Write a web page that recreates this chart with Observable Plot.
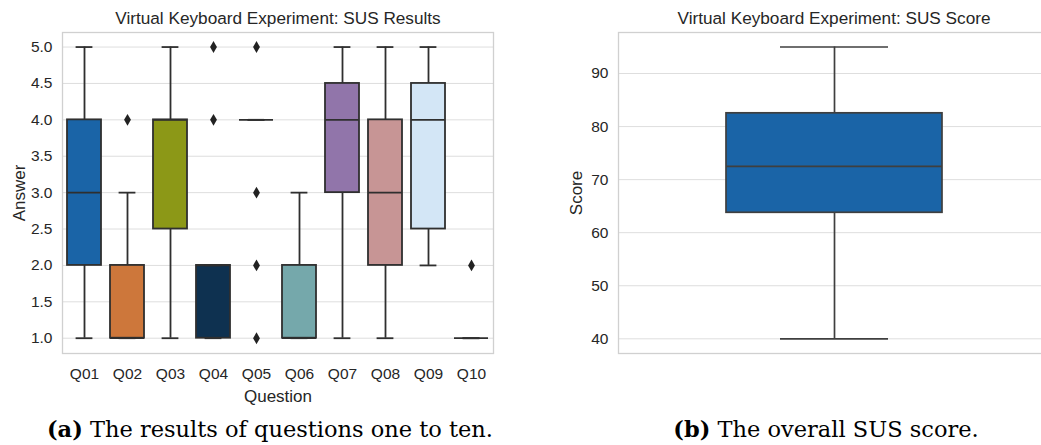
<!DOCTYPE html>
<html><head><meta charset="utf-8">
<script src="https://cdn.jsdelivr.net/npm/d3@7"></script>
<script src="https://cdn.jsdelivr.net/npm/@observablehq/plot@0.6"></script>
<style>
html,body{margin:0;padding:0;background:#fff;overflow:hidden;}
#wrap{position:relative;width:1041px;height:445px;overflow:hidden;}
.title{position:absolute;font-family:"Liberation Sans",Arial,sans-serif;font-size:17.2px;color:#262626;transform:translateX(-50%);white-space:nowrap;line-height:1;}
.cap{position:absolute;font-family:"DejaVu Serif",serif;font-size:22.5px;color:#000;transform:translateX(-50%);white-space:nowrap;line-height:1;}
.panel{position:absolute;top:0;}
.panel svg{max-width:none !important;}
</style></head><body>
<div id="wrap">
  <div class="panel" id="left" style="left:0;width:520px"></div>
  <div class="panel" id="right" style="left:520px;width:530px"></div>
  <div class="title" style="left:278px;top:10px">Virtual Keyboard Experiment: SUS Results</div>
  <div class="title" style="left:834px;top:10px">Virtual Keyboard Experiment: SUS Score</div>
  <div class="cap" style="left:270px;top:418px"><b>(a)</b> The results of questions one to ten.</div>
  <div class="cap" style="left:826px;top:418px"><b>(b)</b> The overall SUS score.</div>
</div>
<script>
// ---- Panel (a): per-question summaries ----
const questions = ["Q01","Q02","Q03","Q04","Q05","Q06","Q07","Q08","Q09","Q10"];
const q1 =          [2, 1, 2.5, 1, 4, 1, 3,   2, 2.5, 1];
const medians =     [3, 1, 4,   2, 4, 1, 4,   3, 4,   1];
const q3 =          [4, 2, 4,   2, 4, 2, 4.5, 4, 4.5, 1];
const whiskerLow =  [1, 1, 1,   1, 4, 1, 1,   1, 2,   1];
const whiskerHigh = [5, 3, 5,   2, 4, 3, 5,   5, 5,   1];
const boxColors = ["#1a64a7","#cd773b","#8c9817","#0e3150","#c44e52","#75a8ab","#9175aa","#c79595","#d3e6f6","#8c8c8c"];
const outlierQuestion = ["Q02","Q04","Q04","Q05","Q05","Q05","Q05","Q10"];
const outlierValue =    [4,    4,    5,    5,    3,    2,    1,    2];
const answerTicks = [1, 1.5, 2, 2.5, 3, 3.5, 4, 4.5, 5];

// ---- Panel (b): overall SUS score summary ----
const scoreCategory = [""];
const scoreQ1 = [63.75];
const scoreMedian = [72.5];
const scoreQ3 = [82.5];
const scoreLow = [40];
const scoreHigh = [95];
const scoreColor = ["#1a64a7"];
const scoreTicks = [40, 50, 60, 70, 80, 90];

const EDGE = "#2f2f2f", GRID = "#dedede", FRAME = "#d0d0d0", SW = 1.8;
const font = {fontFamily: "'Liberation Sans', Arial, sans-serif", fontSize: "15.5px", color: "#262626", background: "white", overflow: "visible"};

const rows = questions.map((q, i) => ({q, q1: q1[i], med: medians[i], q3: q3[i], lo: whiskerLow[i], hi: whiskerHigh[i], color: boxColors[i]}));
const outliers = outlierQuestion.map((q, i) => ({q, v: outlierValue[i]}));

const left = Plot.plot({
  width: 520, height: 410,
  marginLeft: 62, marginRight: 27, marginTop: 32, marginBottom: 57,
  style: font,
  x: {type: "band", domain: questions, paddingInner: 0.2, paddingOuter: 0.1},
  y: {domain: [0.79, 5.2]},
  marks: [
    Plot.ruleY(answerTicks, {stroke: GRID, strokeWidth: 1}),
    Plot.ruleX(rows.filter(d => d.lo < d.q1), {x: "q", y1: "lo", y2: "q1", stroke: EDGE, strokeWidth: SW}),
    Plot.ruleX(rows.filter(d => d.hi > d.q3), {x: "q", y1: "q3", y2: "hi", stroke: EDGE, strokeWidth: SW}),
    Plot.barY(rows, {x: "q", y1: "q1", y2: "q3", fill: d => d.color, stroke: EDGE, strokeWidth: SW}),
    Plot.tickY(rows, {x: "q", y: "med", stroke: EDGE, strokeWidth: SW}),
    Plot.tickY(rows, {x: "q", y: "lo", stroke: EDGE, strokeWidth: SW, inset: 8.6}),
    Plot.tickY(rows, {x: "q", y: "hi", stroke: EDGE, strokeWidth: SW, inset: 8.6}),
    Plot.dot(outliers, {x: "q", y: "v", symbol: "diamond", r: 3.6, fill: "#222", stroke: "none"}),
    Plot.axisY({ticks: answerTicks, tickFormat: d3.format(".1f"), tickSize: 0, tickPadding: 10, label: "Answer", labelAnchor: "center", labelArrow: "none", labelOffset: 50}),
    Plot.axisX({tickSize: 0, tickPadding: 14, label: "Question", labelAnchor: "center", labelArrow: "none", labelOffset: 48}),
    Plot.frame({stroke: FRAME, strokeWidth: 1.3})
  ]
});
document.getElementById("left").append(left);

const srow = scoreCategory.map((c, i) => ({c, q1: scoreQ1[i], med: scoreMedian[i], q3: scoreQ3[i], lo: scoreLow[i], hi: scoreHigh[i], color: scoreColor[i]}));
const right = Plot.plot({
  width: 530, height: 410,
  marginLeft: 98, marginRight: 0, marginTop: 32, marginBottom: 57,
  style: font,
  x: {type: "band", domain: scoreCategory, padding: 0, axis: null},
  y: {domain: [37.23, 97.73]},
  marks: [
    Plot.ruleY(scoreTicks, {stroke: GRID, strokeWidth: 1}),
    Plot.ruleX(srow, {x: "c", y1: "lo", y2: "q1", stroke: "#3f3f3f", strokeWidth: 1.7}),
    Plot.ruleX(srow, {x: "c", y1: "q3", y2: "hi", stroke: "#3f3f3f", strokeWidth: 1.7}),
    Plot.barY(srow, {x: "c", y1: "q1", y2: "q3", fill: d => d.color, stroke: "#3f3f3f", strokeWidth: 1.7, insetLeft: 108, insetRight: 108}),
    Plot.tickY(srow, {x: "c", y: "med", stroke: "#3f3f3f", strokeWidth: 1.7, inset: 108}),
    Plot.tickY(srow, {x: "c", y: "lo", stroke: "#3f3f3f", strokeWidth: 1.7, inset: 162}),
    Plot.tickY(srow, {x: "c", y: "hi", stroke: "#3f3f3f", strokeWidth: 1.7, inset: 162}),
    Plot.axisY({ticks: scoreTicks, tickSize: 0, tickPadding: 10, label: "Score", labelAnchor: "center", labelArrow: "none", labelOffset: 49}),
    Plot.frame({stroke: FRAME, strokeWidth: 1.3})
  ]
});
document.getElementById("right").append(right);

// axis label font size (labels slightly larger than tick labels)
for (const svg of [left, right]) {
  svg.querySelectorAll("g[aria-label='y-axis label'], g[aria-label='x-axis label']").forEach(g => g.setAttribute("font-size", "17px"));
}
</script>
</body></html>
